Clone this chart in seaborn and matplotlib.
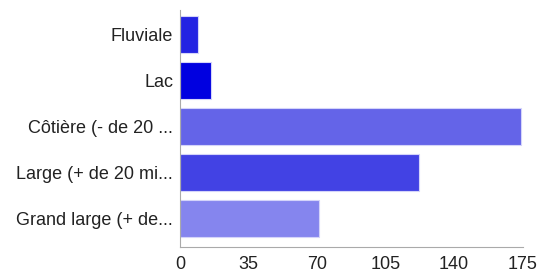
import pandas as pd
import seaborn as sns
import matplotlib.pyplot as plt

# Data
categories = ['Fluviale', 'Lac', 'Côtière (- de 20 ...', 'Large (+ de 20 mi...', 'Grand large (+ de...']
values = [9, 16, 174, 122, 71]
bar_colors = ['#2323e2', '#0000e0', '#6464e8', '#4242e4', '#8585ee']
xticks = [0, 35, 70, 105, 140, 175]

df = pd.DataFrame({'type': categories, 'count': values})

sns.set_style('white')
plt.rcParams['font.family'] = ['Liberation Sans', 'DejaVu Sans']

fig = plt.figure(figsize=(5.39, 2.73), dpi=100)
ax = fig.add_axes([180 / 539, 1 - 246.5 / 273, (522.7 - 180) / 539, (246.5 - 10) / 273])

sns.barplot(data=df, y='type', x='count', hue='type', palette=bar_colors, saturation=1,
            legend=False, width=0.8, edgecolor='#d4d4fa', linewidth=0.8, ax=ax)

ax.set_xlim(0, 175)
ax.set_ylim(4.6, -0.53)
ax.set_xticks(xticks)
ax.set_xlabel('')
ax.set_ylabel('')

for side in ['top', 'right']:
    ax.spines[side].set_visible(False)
for side in ['left', 'bottom']:
    ax.spines[side].set_color('#aaaaaa')
    ax.spines[side].set_linewidth(0.8)

ax.tick_params(axis='x', direction='out', length=5, width=0.8, color='#aaaaaa',
               labelsize=13, labelcolor='#222222', pad=2)
ax.tick_params(axis='y', direction='out', length=3, width=0.8, color='#aaaaaa',
               labelsize=13, labelcolor='#222222', pad=2)

fig.savefig('out.png', dpi=100)
